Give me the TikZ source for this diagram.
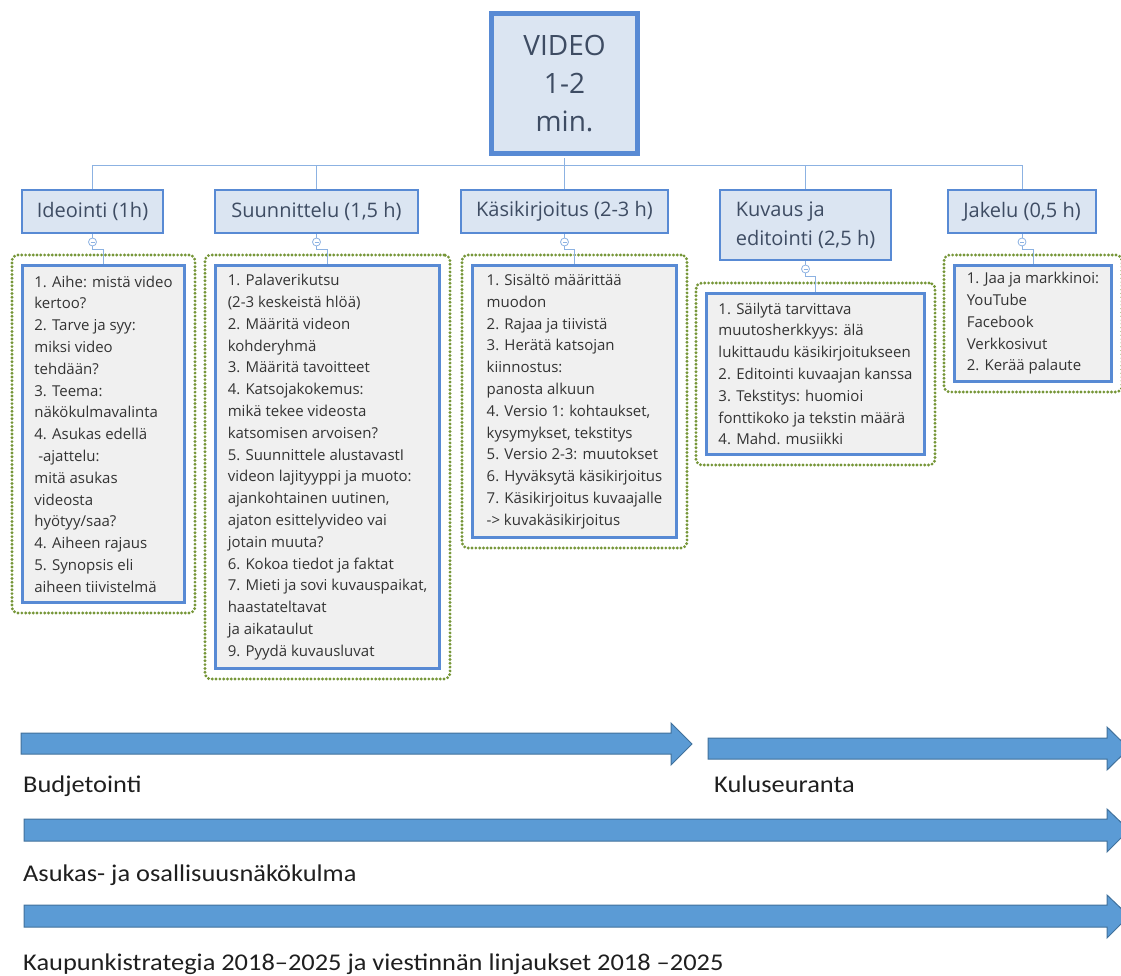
\documentclass[tikz,border=0pt]{standalone}
\usepackage{fontspec}
\setmainfont{Open Sans}
\newfontfamily\labelfont[FakeStretch=1.1]{Carlito}
\usepackage{tikz}
\usetikzlibrary{positioning,fit,calc}
\definecolor{boxblue}{RGB}{88,138,212}
\definecolor{headfill}{RGB}{219,229,242}
\definecolor{headtext}{RGB}{62,76,99}
\definecolor{listfill}{RGB}{240,240,240}
\definecolor{bodytext}{RGB}{51,51,51}
\definecolor{grpgreen}{RGB}{118,150,56}
\definecolor{linkblue}{RGB}{140,178,226}
\definecolor{arrowfill}{RGB}{91,155,213}
\definecolor{arrowedge}{RGB}{65,113,156}

\begin{document}
\begin{tikzpicture}[x=1pt,y=-1pt,
  root/.style={draw=boxblue,line width=5pt,fill=headfill,minimum width=146pt,minimum height=140pt,align=center,text=headtext,font=\fontsize{28}{38}\selectfont},
  head/.style={draw=boxblue,line width=2pt,fill=headfill,minimum height=43pt,align=left,text=headtext,font=\fontsize{20}{29}\selectfont},
  list/.style={draw=boxblue,line width=3pt,fill=listfill,anchor=north west,align=left,text=bodytext,inner sep=0pt,font=\fontsize{15}{21.8}\selectfont},
  grp/.style={draw=grpgreen,line width=3.2pt,line cap=round,dash pattern=on 0pt off 3.8pt,rounded corners=6pt,inner sep=9pt},
  link/.style={draw=linkblue,line width=1pt},
  tog/.style={circle,draw=linkblue,fill=white,line width=0.8pt,minimum size=8pt,inner sep=0pt,
    path picture={\draw[linkblue,line width=0.8pt] ($(path picture bounding box.center)+(-2,0)$) -- ++(4,0);}},
  bigarrow/.style={fill=arrowfill,draw=arrowedge,line width=1pt},
  lab/.style={anchor=base west,inner sep=0pt,text=black!88,font=\labelfont\fontsize{24}{28}\selectfont}
]
\useasboundingbox (0,0) rectangle (1121,976);
\clip (0,0) rectangle (1121,976);

% main box and phases
\node[root] (video) at (564.5,83.5) {VIDEO\\1-2\\min.};
\node[head,minimum width=141pt] (ideo) at (92.5,211.5) {Ideointi (1h)};
\node[head,minimum width=203pt] (suun) at (316.5,211.5) {Suunnittelu (1,5 h)};
\node[head,minimum width=207pt] (kasi) at (564.5,211.5) {Käsikirjoitus (2-3 h)};
\node[head,minimum width=171pt,minimum height=70pt] (kuva) at (805.5,225) {Kuvaus ja\\editointi (2,5 h)};
\node[head,minimum width=148pt] (jake) at (1022,211.5) {Jakelu (0,5 h)};

\coordinate (bus) at (564.5,166);
\draw[link] ($(video.south)+(0,2.5)$) -- (bus);
\draw[link] (ideo.north) -- (ideo.north |- bus) -| (jake.north);
\draw[link] (suun.north) -- (suun.north |- bus);
\draw[link] (kasi.north) -- (kasi.north |- bus);
\draw[link] (kuva.north) -- (kuva.north |- bus);

% task lists
\node[list,minimum width=162pt,minimum height=337pt] (ideob) at (21,264)
  {1. Aihe: mistä video\\kertoo?\\2. Tarve ja syy:\\miksi video\\tehdään?\\3. Teema:\\näkökulmavalinta\\4. Asukas edellä\\\ -ajattelu:\\mitä asukas\\videosta\\hyötyy/saa?\\4. Aiheen rajaus\\5. Synopsis eli\\aiheen tiivistelmä};
\node[list,minimum width=224pt,minimum height=403pt] (suunb) at (214,264)
  {1. Palaverikutsu\\(2-3 keskeistä hlöä)\\2. Määritä videon\\kohderyhmä\\3. Määritä tavoitteet\\4. Katsojakokemus:\\mikä tekee videosta\\katsomisen arvoisen?\\5. Suunnittele alustavastI\\videon lajityyppi ja muoto:\\ajankohtainen uutinen,\\ajaton esittelyvideo vai\\jotain muuta?\\6. Kokoa tiedot ja faktat\\7. Mieti ja sovi kuvauspaikat,\\haastateltavat\\ja aikataulut\\9. Pyydä kuvausluvat};
\node[list,minimum width=204pt,minimum height=272pt] (kasib) at (471,264)
  {1. Sisältö määrittää\\muodon\\2. Rajaa ja tiivistä\\3. Herätä katsojan\\kiinnostus:\\panosta alkuun\\4. Versio 1: kohtaukset,\\kysymykset, tekstitys\\5. Versio 2-3: muutokset\\6. Hyväksytä käsikirjoitus\\7. Käsikirjoitus kuvaajalle\\-> kuvakäsikirjoitus};
\node[list,minimum width=218pt,minimum height=161pt] (kuvab) at (705,292)
  {1. Säilytä tarvittava\\muutosherkkyys: älä\\lukittaudu käsikirjoitukseen\\2. Editointi kuvaajan kanssa\\3. Tekstitys: huomioi\\fonttikoko ja tekstin määrä\\4. Mahd. musiikki};
\node[list,minimum width=157pt,minimum height=116pt] (jakeb) at (953,264)
  {1. Jaa ja markkinoi:\\YouTube\\Facebook\\Verkkosivut\\2. Kerää palaute};

% dotted frames
\node[grp,fit=(ideob)] (ideog) {};
\node[grp,fit=(suunb)] (suung) {};
\node[grp,fit=(kasib)] (kasig) {};
\node[grp,fit=(kuvab)] (kuvag) {};
\node[grp,fit=(jakeb)] (jakeg) {};

% collapse toggles
\node[tog] (ideot) at ($(ideo.south)+(0,8)$) {};
\node[tog] (suunt) at ($(suun.south)+(0,8)$) {};
\node[tog] (kasit) at ($(kasi.south)+(0,8)$) {};
\node[tog] (kuvat) at ($(kuva.south)+(0,8)$) {};
\node[tog] (jaket) at ($(jake.south)+(0,8)$) {};
\draw[link] (ideo.south) -- (ideot.north);
\draw[link] (suun.south) -- (suunt.north);
\draw[link] (kasi.south) -- (kasit.north);
\draw[link] (kuva.south) -- (kuvat.north);
\draw[link] (jake.south) -- (jaket.north);
\draw[link] (ideot.south) -- ++(0,3) -| (ideob.north);
\draw[link] (suunt.south) -- ++(0,3) -| (suunb.north);
\draw[link] (kasit.south) -- ++(0,3) -| (kasib.north);
\draw[link] (kuvat.south) -- ++(0,3) -| (kuvab.north);
\draw[link] (jaket.south) -- ++(0,3) -| (jakeb.north);

% timeline arrows
\draw[bigarrow] (21,733) -- (671,733) -- (671,723) -- (692,744) -- (671,765) -- (671,754) -- (21,754) -- cycle;
\draw[bigarrow] (708,738) -- (1107,738) -- (1107,727) -- (1129,748.5) -- (1107,770) -- (1107,759) -- (708,759) -- cycle;
\draw[bigarrow] (24,819) -- (1107,819) -- (1107,809) -- (1129,830) -- (1107,852) -- (1107,841) -- (24,841) -- cycle;
\draw[bigarrow] (24,905) -- (1107,905) -- (1107,895) -- (1129,916) -- (1107,938) -- (1107,927) -- (24,927) -- cycle;

\node[lab] (budj) at (23,792) {Budjetointi};
\node[lab] (kulu) at (714,792) {Kuluseuranta};
\node[lab] (asuk) at (23,881) {Asukas- ja osallisuusnäkökulma};
\node[lab] (kaup) at (23,970) {Kaupunkistrategia 2018–2025 ja viestinnän linjaukset 2018 –2025};
\end{tikzpicture}
\end{document}
